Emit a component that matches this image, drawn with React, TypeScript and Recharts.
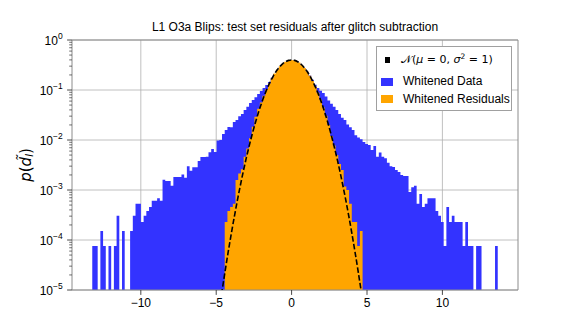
import React from 'react';
import { ComposedChart, Area, Line, XAxis, YAxis, CartesianGrid, Legend, ReferenceArea } from 'recharts';

// ---------- data ----------
const BIN_START = -13.22;
const BIN_WIDTH = 0.17927;
const ORANGE_FIRST_BIN = 49;

// density per bin (Whitened Data), 150 bins starting at BIN_START
const whitenedData: number[] = [
  7.6e-5, 7.6e-5, 0, 1.52e-4, 7.6e-5, 0, 7.6e-5, 0, 7.6e-5, 3.04e-4,
  0, 1.52e-4, 0, 0, 1.52e-4, 3.04e-4, 5.32e-4, 5.32e-4, 2.28e-4, 3.04e-4,
  3.8e-4, 4.56e-4, 6.08e-4, 6.08e-4, 6.84e-4, 6.08e-4, 1.6e-3, 1.52e-3, 1.52e-3, 1.22e-3,
  1.82e-3, 1.82e-3, 1.82e-3, 2.05e-3, 1.75e-3, 3.0e-3, 2.43e-3, 2.85e-3, 2.85e-3, 3.8e-3,
  4.56e-3, 4.56e-3, 4.64e-3, 5.7e-3, 6.6e-3, 5.75e-3, 9.8e-3, 0.0100, 0.0132, 0.0158,
  0.0182, 0.0180, 0.0229, 0.025, 0.030, 0.033, 0.040, 0.046, 0.055, 0.063,
  0.072, 0.083, 0.095, 0.110, 0.126, 0.145, 0.175, 0.21, 0.25, 0.29,
  0.325, 0.352, 0.37, 0.378, 0.376, 0.362, 0.338, 0.305, 0.27, 0.232,
  0.195, 0.16, 0.128, 0.11, 0.097, 0.087, 0.074, 0.062, 0.053, 0.046,
  0.040, 0.033, 0.028, 0.025, 0.0205, 0.018, 0.0158, 0.0125, 0.0112, 0.0104,
  0.0091, 0.0083, 0.0079, 0.0063, 0.0076, 0.0046, 0.0056, 0.0046, 0.0043, 0.0035,
  0.0030, 0.0029, 0.0025, 0.0023, 0.0020, 0.0019, 0.0019, 9.1e-4, 1.14e-3, 1.21e-3,
  5.32e-4, 8.36e-4, 4.56e-4, 5.32e-4, 6.84e-4, 6.84e-4, 6.84e-4, 3.8e-4, 3.04e-4, 2.28e-4,
  7.6e-5, 4.56e-4, 2.28e-4, 3.04e-4, 2.28e-4, 2.28e-4, 2.28e-4, 7.6e-5, 2.28e-4, 7.6e-5,
  7.6e-5, 0, 7.6e-5, 7.6e-5, 0, 0, 0, 0, 0, 7.6e-5,
];

// density per bin (Whitened Residuals), bins 49..99
const whitenedResiduals: number[] = [
  2.28e-4, 3.8e-4, 4.56e-4, 5.32e-4, 1.59e-3, 2.13e-3, 2.6e-3, 4.6e-3, 6.8e-3, 0.0108,
  0.0184, 0.0292, 0.042, 0.056, 0.077, 0.103, 0.135, 0.172, 0.213, 0.256,
  0.298, 0.336, 0.367, 0.389, 0.398, 0.395, 0.379, 0.353, 0.318, 0.277,
  0.234, 0.192, 0.152, 0.117, 0.088, 0.064, 0.0445, 0.0305, 0.0200, 0.0120,
  0.0078, 0.0050, 0.0033, 0.0025, 0.00117, 0.0010, 5.32e-4, 2.28e-4, 2.28e-4, 7.6e-5,
  1.52e-4,
];

// standard normal curve N(0,1)
const normalX: number[] = [
  -4.8, -4.6, -4.4, -4.2, -4.0, -3.8, -3.6, -3.4, -3.2, -3.0, -2.8, -2.6, -2.4, -2.2, -2.0, -1.8, -1.6, -1.4, -1.2, -1.0, -0.8, -0.6, -0.4, -0.2,
  0, 0.2, 0.4, 0.6, 0.8, 1.0, 1.2, 1.4, 1.6, 1.8, 2.0, 2.2, 2.4, 2.6, 2.8, 3.0, 3.2, 3.4, 3.6, 3.8, 4.0, 4.2, 4.4, 4.6, 4.8,
];
const normalY: number[] = [
  3.961e-6, 1.0139e-5, 2.4938e-5, 5.894e-5, 1.3383e-4, 2.92e-4, 6.119e-4, 1.2322e-3, 2.384e-3, 4.432e-3, 7.915e-3, 0.01358, 0.02239, 0.03547, 0.05399, 0.07895, 0.11092, 0.14973, 0.19419, 0.24197, 0.28969, 0.33322, 0.36827, 0.39104,
  0.39894, 0.39104, 0.36827, 0.33322, 0.28969, 0.24197, 0.19419, 0.14973, 0.11092, 0.07895, 0.05399, 0.03547, 0.02239, 0.01358, 0.007915, 0.004432, 0.002384, 0.0012322, 6.119e-4, 2.92e-4, 1.3383e-4, 5.894e-5, 2.4938e-5, 1.0139e-5, 3.961e-6,
];

const xTicks = [-10, -5, 0, 5, 10];
const xTickLabels = ['\u221210', '\u22125', '0', '5', '10'];
const yMajorTicks = [1e-5, 1e-4, 1e-3, 1e-2, 1e-1, 1];
const yTickExponents = ['\u22125', '\u22124', '\u22123', '\u22122', '\u22121', '0'];
const yMinorMultipliers = [2, 3, 4, 5, 6, 7, 8, 9];

const legendLabels = ['Whitened Data', 'Whitened Residuals'];
const TITLE = 'L1 O3a Blips: test set residuals after glitch subtraction';

const X_MIN = -14.564;
const X_MAX = 15.014;
const Y_MIN = 1e-5;
const Y_MAX = 1;

const BLUE = '#3333ff';
const ORANGE = '#ffa500';
const FONT = '"Liberation Sans", Arial, Helvetica, sans-serif';
const MATH_FONT = '"DejaVu Sans", sans-serif';

// ---------- derived tables ----------
function outline(values: number[], firstBin: number) {
  const pts: { x: number; y: number | null }[] = [];
  values.forEach((v, i) => {
    const left = BIN_START + (firstBin + i) * BIN_WIDTH;
    const right = BIN_START + (firstBin + i + 1) * BIN_WIDTH;
    if (v > 0) {
      pts.push({ x: left, y: v }, { x: right, y: v });
    } else {
      pts.push({ x: (left + right) / 2, y: null });
    }
  });
  return pts;
}

const blueData = outline(whitenedData, 0);
const orangeData = outline(whitenedResiduals, ORANGE_FIRST_BIN);
const normalData = normalX.map((x, i) => ({ x, y: normalY[i] }));

const yAllTicks: number[] = [];
yMajorTicks.forEach((t, i) => {
  yAllTicks.push(t);
  if (i < yMajorTicks.length - 1) yMinorMultipliers.forEach((m) => yAllTicks.push(t * m));
});
yAllTicks.sort((a, b) => a - b);

const Y_TICK_SIZE = 5;
const Y_TICK_MARGIN = 5;

const YTick = (props: any) => {
  const { x, y, payload } = props;
  const v = payload.value as number;
  const axisX = x + Y_TICK_SIZE + Y_TICK_MARGIN;
  const idx = yMajorTicks.findIndex((t) => Math.abs(Math.log10(t) - Math.log10(v)) < 1e-6);
  const major = idx >= 0;
  return (
    <g>
      <line x1={axisX - (major ? 4.9 : 2.8)} x2={axisX} y1={y} y2={y} stroke="#333" strokeWidth={major ? 0.9 : 0.7} />
      {major && (
        <text x={axisX - 4.9 - 4.4} y={y} textAnchor="end" fill="#000" fontFamily={FONT} fontSize={12}>
          <tspan dy={5}>10</tspan>
          <tspan dy={-6} fontSize={8.5}>{yTickExponents[idx]}</tspan>
        </text>
      )}
    </g>
  );
};

const YLabel = (props: any) => {
  const vb = props.viewBox || { x: 12, y: 40, width: 60, height: 250 };
  const cx = vb.x + 13.5;
  const cy = vb.y + vb.height / 2;
  return (
    <text
      x={cx}
      y={cy}
      transform={`rotate(-90, ${cx}, ${cy})`}
      textAnchor="middle"
      dominantBaseline="central"
      fontFamily={MATH_FONT}
      fontSize={15}
      fill="#000"
    >
      <tspan fontStyle="italic">p</tspan>
      <tspan>(</tspan>
      <tspan fontStyle="italic">{'d\u0303'}</tspan>
      <tspan fontStyle="italic" fontSize={10} dy={3}>l</tspan>
      <tspan dy={-3}>)</tspan>
    </text>
  );
};

const LegendBox = () => (
  <div
    style={{
      position: 'relative',
      width: 136,
      height: 65,
      boxSizing: 'border-box',
      border: '1px solid #a0a0a0',
      background: '#fff',
      fontFamily: FONT,
      fontSize: 12,
      color: '#000',
    }}
  >
    <div style={{ position: 'absolute', left: 8, top: 10, width: 5, height: 6, background: '#000' }} />
    <div style={{ position: 'absolute', left: 24, top: 5, lineHeight: '16px', fontFamily: MATH_FONT, fontSize: 11, whiteSpace: 'nowrap' }}>
      <span>{'\u{1D4A9}'}</span>({<i>{'\u03bc'}</i>} = 0, <i>{'\u03c3'}</i>
      <sup style={{ fontSize: 7.5, verticalAlign: 'top', position: 'relative', top: -3 }}>2</sup> = 1)
    </div>
    <div style={{ position: 'absolute', left: 4, top: 31, width: 12, height: 7.5, background: BLUE }} />
    <div style={{ position: 'absolute', left: 26, top: 27, lineHeight: '14px', whiteSpace: 'nowrap' }}>{legendLabels[0]}</div>
    <div style={{ position: 'absolute', left: 4, top: 48, width: 12, height: 7.5, background: ORANGE }} />
    <div style={{ position: 'absolute', left: 26, top: 45, lineHeight: '14px', whiteSpace: 'nowrap' }}>{legendLabels[1]}</div>
  </div>
);

export default function App() {
  return (
    <div style={{ position: 'absolute', left: 0, top: 0, width: 576, height: 331, background: '#fff' }}>
      <ComposedChart width={576} height={331} margin={{ top: 40, right: 58, bottom: 11, left: 12 }}>
        <XAxis
          dataKey="x"
          type="number"
          domain={[X_MIN, X_MAX]}
          allowDataOverflow
          ticks={xTicks}
          interval={0}
          tickFormatter={(v: number) => xTickLabels[xTicks.indexOf(v)] ?? String(v)}
          height={30}
          tickSize={4.9}
          tickMargin={4}
          axisLine={false}
          tickLine={{ stroke: '#333', strokeWidth: 0.9 }}
          tick={{ fill: '#000', fontSize: 12, fontFamily: FONT }}
        />
        <YAxis
          type="number"
          scale="log"
          domain={[Y_MIN, Y_MAX]}
          allowDataOverflow
          ticks={yAllTicks}
          interval={0}
          width={60}
          tickSize={Y_TICK_SIZE}
          tickMargin={Y_TICK_MARGIN}
          tickLine={false}
          axisLine={false}
          tick={<YTick />}
          label={{ content: (p: any) => <YLabel {...p} /> }}
        />
        <Area
          data={blueData}
          dataKey="y"
          type="linear"
          baseValue={Y_MIN}
          stroke="none"
          fill={BLUE}
          fillOpacity={1}
          connectNulls={false}
          isAnimationActive={false}
          dot={false}
          activeDot={false}
        />
        <Area
          data={orangeData}
          dataKey="y"
          type="linear"
          baseValue={Y_MIN}
          stroke="none"
          fill={ORANGE}
          fillOpacity={1}
          connectNulls={false}
          isAnimationActive={false}
          dot={false}
          activeDot={false}
        />
        <CartesianGrid
          vertical
          horizontal
          verticalValues={xTicks}
          horizontalValues={yMajorTicks}
          stroke="#b0b0b0"
          strokeWidth={0.8}
        />
        <Line
          data={normalData}
          dataKey="y"
          type="monotone"
          stroke="#000"
          strokeWidth={1.6}
          strokeDasharray="5.5 2.4"
          dot={false}
          activeDot={false}
          isAnimationActive={false}
        />
        <ReferenceArea
          x1={X_MIN}
          x2={X_MAX}
          y1={Y_MIN}
          y2={Y_MAX}
          fill="none"
          stroke="#8c8c8c"
          strokeWidth={1}
          ifOverflow="visible"
        />
        <Legend
          layout="vertical"
          align="center"
          verticalAlign="middle"
          content={() => <LegendBox />}
          wrapperStyle={{ position: 'absolute', left: 376, top: 46, width: 136, height: 65 }}
        />
      </ComposedChart>
      <div
        style={{
          position: 'absolute',
          left: 72,
          top: 20,
          width: 446,
          textAlign: 'center',
          fontFamily: FONT,
          fontSize: 12,
          lineHeight: '14px',
          color: '#000',
          whiteSpace: 'nowrap',
        }}
      >
        {TITLE}
      </div>
    </div>
  );
}
